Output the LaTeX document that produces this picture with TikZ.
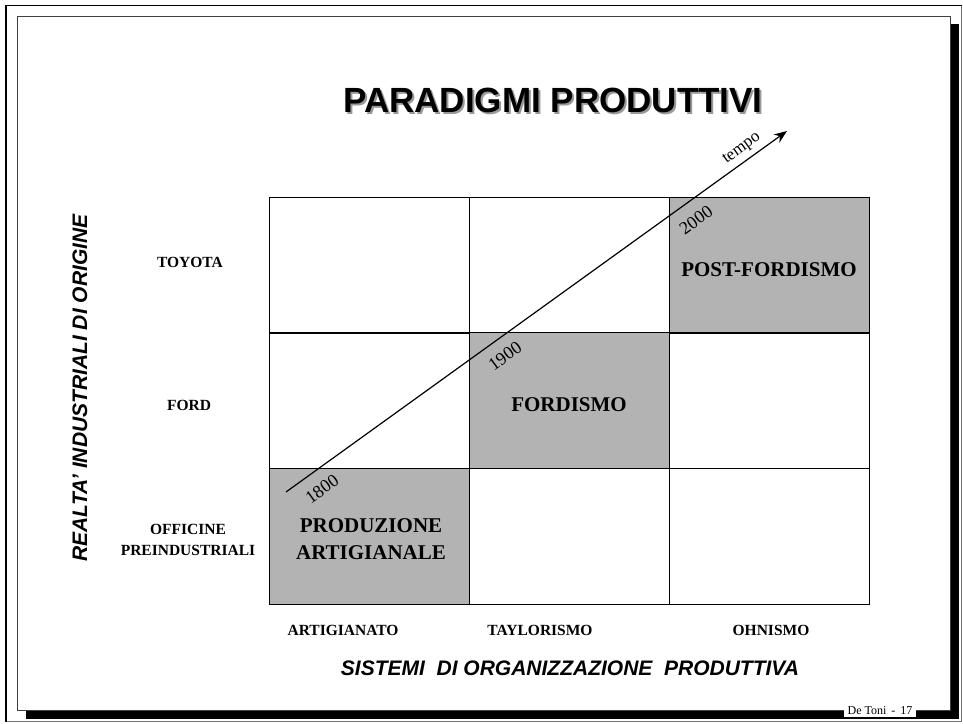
\documentclass[tikz,border=0pt]{standalone}
\usepackage{fontspec}
\setmainfont{Liberation Serif}
\setsansfont{Liberation Sans}
\usetikzlibrary{arrows.meta}
\definecolor{cellgray}{RGB}{179,179,179}
\begin{document}
\begin{tikzpicture}[x=1pt,y=-1pt,
  cell/.style={draw=black, line width=1pt, minimum width=200pt, minimum height=136pt, inner sep=0pt, anchor=center},
  graycell/.style={cell, fill=cellgray},
  celltext/.style={font=\fontsize{21}{27}\selectfont\bfseries, align=center, inner sep=0pt},
  rowlab/.style={font=\fontsize{15.5}{21}\selectfont\bfseries, align=center, inner sep=0pt},
  axislab/.style={font=\fontsize{21}{25}\selectfont\sffamily\bfseries\itshape, inner sep=0pt},
  yearlab/.style={font=\fontsize{18}{20}\selectfont, rotate=36, inner sep=0pt},
  timeline/.style={line width=1.2pt, -{Stealth[length=13pt, width=10pt]}}
]
\useasboundingbox (0,0) rectangle (963,723);
% frame
\draw[black!55, line width=0.8pt] (5.5,5.5) rectangle (961.5,721.5);
\draw[black, line width=1pt] (5,5.5) -- (962,5.5);
\draw[black, line width=2pt] (6,4.5) -- (6,722);
\fill[black] (26,24) rectangle (959,719);
\draw[fill=white, draw=black!75, line width=0.8pt] (17,16) rectangle (950,710);
\node[fill=white, inner xsep=4pt, inner ysep=2pt, font=\fontsize{12}{14}\selectfont] (foot) at (880,711) {De Toni \,-\, 17};

% title
\node[font=\fontsize{35}{40}\selectfont\sffamily\bfseries, text=black!40, inner sep=0pt] (titleshadow) at (555,102) {PARADIGMI PRODUTTIVI};
\node[font=\fontsize{35}{40}\selectfont\sffamily\bfseries, inner sep=0pt] (title) at (553,100) {PARADIGMI PRODUTTIVI};

% grid
\node[cell] (c11) at (369,265) {};
\node[cell] (c12) at (569,265) {};
\node[graycell] (c13) at (769,265) {};
\node[cell] (c21) at (369,400.5) {};
\node[graycell] (c22) at (569,400.5) {};
\node[cell] (c23) at (769,400.5) {};
\node[graycell] (c31) at (369,536.5) {};
\node[cell] (c32) at (569,536.5) {};
\node[cell] (c33) at (769,536.5) {};

\node[celltext] (postf) at (769,270) {POST-FORDISMO};
\node[celltext] (fordismo) at (569,405) {FORDISMO};
\node[celltext] (prodart) at (371,539) {PRODUZIONE\\ARTIGIANALE};

% row labels
\node[rowlab] (toyota) at (190,262) {TOYOTA};
\node[rowlab] (ford) at (189,405) {FORD};
\node[rowlab] (officine) at (188,540) {OFFICINE\\PREINDUSTRIALI};

% column labels
\node[rowlab] (artig) at (343,630) {ARTIGIANATO};
\node[rowlab] (taylor) at (540,630) {TAYLORISMO};
\node[rowlab] (ohn) at (771,630) {OHNISMO};

% axis titles
\node[axislab] (xaxis) at (570,668) {SISTEMI\ \ DI ORGANIZZAZIONE\ \ PRODUTTIVA};
\node[axislab, rotate=90] (yaxis) at (80,388) {REALTA’ INDUSTRIALI DI ORIGINE};

% time arrow
\coordinate (t0) at (286,492);
\coordinate (t1) at (787,131);
\draw[timeline] (t0) -- (t1);
\node[yearlab] (y1800) at (322,489) {1800};
\node[yearlab] (y1900) at (505,356) {1900};
\node[yearlab] (y2000) at (696,220) {2000};
\node[yearlab, font=\fontsize{17}{20}\selectfont] (tempo) at (742,149) {tempo};
\end{tikzpicture}
\end{document}
